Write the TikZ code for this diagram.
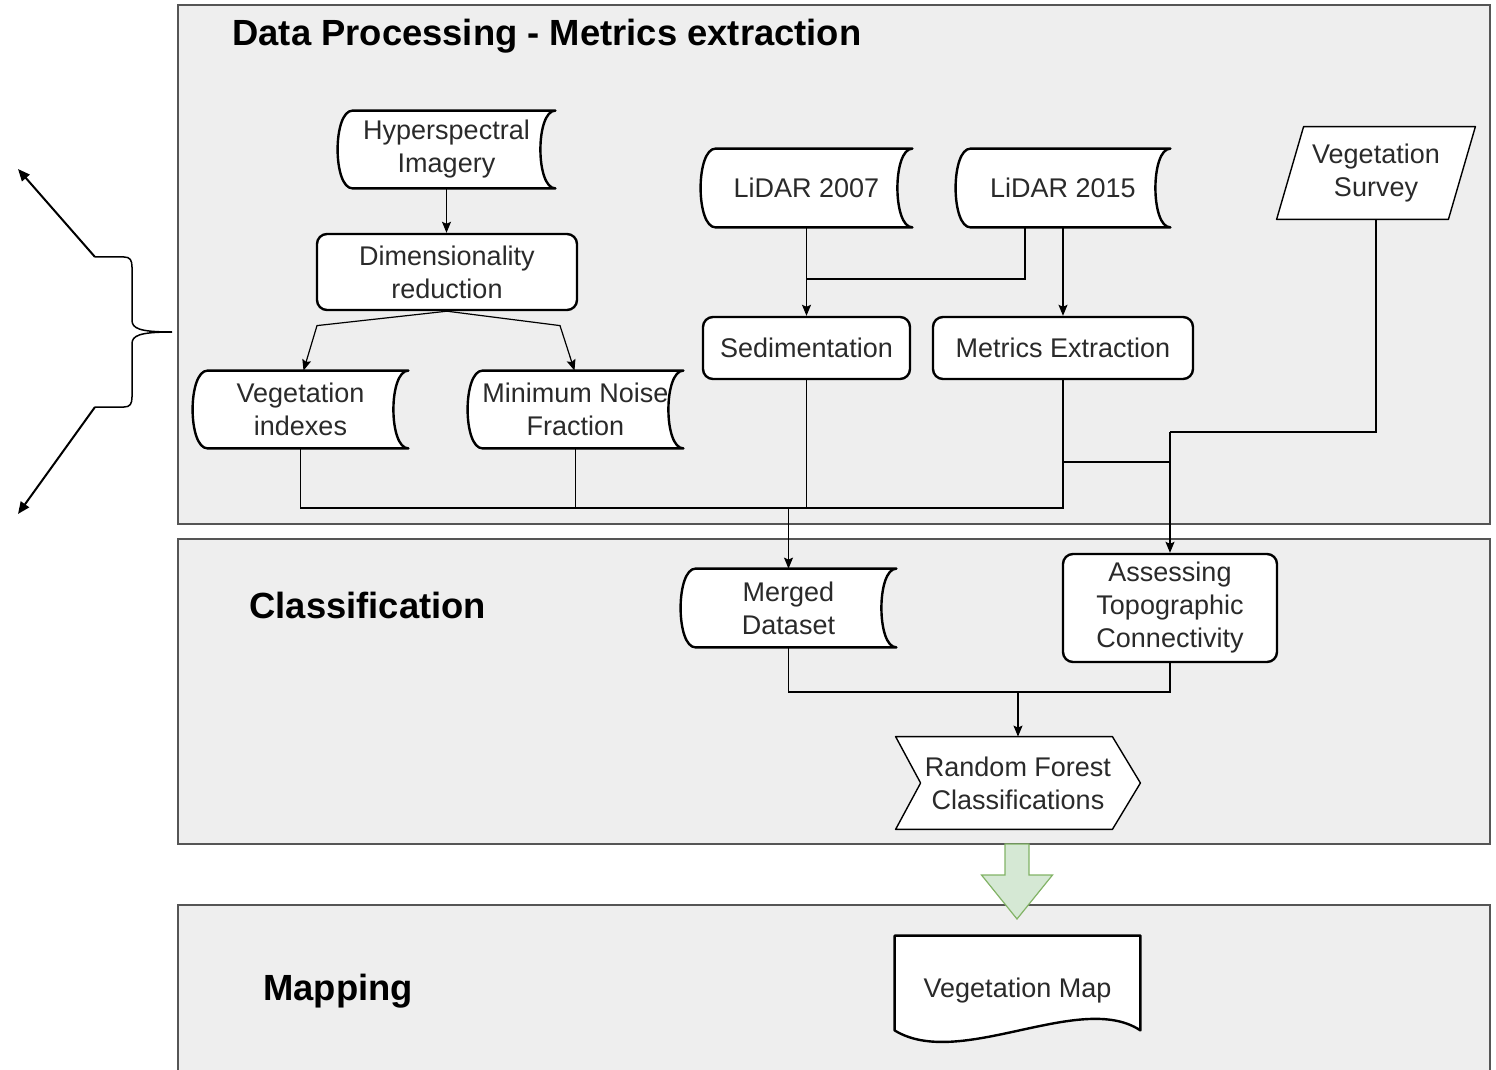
\documentclass[tikz,border=0pt]{standalone}
\usepackage{fontspec}
\setmainfont{Liberation Sans}
\usetikzlibrary{arrows.meta,calc}
\pgfdeclarelayer{panel}
\pgfdeclarelayer{shape}
\pgfsetlayers{panel,shape,main}
\definecolor{panelfill}{HTML}{EEEEEE}
\definecolor{panelline}{HTML}{555555}
\definecolor{txtcol}{HTML}{2A2A2A}
\definecolor{gfill}{HTML}{D5E8D4}
\definecolor{gline}{HTML}{82B366}
\tikzset{
  panelbox/.style={draw=panelline, line width=0.8pt, fill=panelfill},
  shp/.style={draw=black, line width=1.2pt, fill=white, line join=round},
  txt/.style={font=\fontsize{13.5}{16.5}\selectfont, align=center, text=txtcol, inner sep=0pt},
  ghost/.style={txt, draw=none, fill=none},
  rbox/.style={txt, shp, rounded corners=5pt},
  ttl/.style={font=\bfseries\fontsize{18.2}{21.8}\selectfont, text=black, inner sep=0pt},
  conn/.style={draw=black, line width=0.6pt},
  arr/.style={conn, -{Stealth[length=5.5pt,width=4.5pt,inset=1pt]}},
  bracearr/.style={draw=black, line width=1pt, -{Triangle[length=6pt,width=5pt]}},
}
\newcommand{\stdata}[1]{%
  \begin{pgfonlayer}{shape}
  \draw[shp] ([xshift=7.5pt]#1.north west) -- (#1.north east)
    .. controls ([xshift=-10pt]#1.north east) and ([xshift=-10pt]#1.south east) .. (#1.south east)
    -- ([xshift=7.5pt]#1.south west)
    .. controls ([xshift=-2.5pt]#1.south west) and ([xshift=-2.5pt]#1.north west) .. ([xshift=7.5pt]#1.north west) -- cycle;
  \end{pgfonlayer}}
\begin{document}
\begin{tikzpicture}[x=0.5pt,y=-0.5pt]
\useasboundingbox (0,0) rectangle (1496,1070);

% panels
\begin{pgfonlayer}{panel}
\path[panelbox] (178,5) rectangle (1490,524);
\path[panelbox] (178,539) rectangle (1490,844);
\path[panelbox] (178,905) rectangle (1490,1080);
\end{pgfonlayer}

% titles
\node[ttl, anchor=base west] (t1) at (232,46) {Data Processing - Metrics extraction};
\node[ttl, anchor=base west] (t2) at (249,618) {Classification};
\node[ttl, anchor=base west] (t3) at (263,1000) {Mapping};

% stored-data nodes
\node[ghost, minimum width=108.5pt, minimum height=38.5pt] (hyp) at (446.5,149.5) {Hyperspectral\\Imagery};
\stdata{hyp}
\node[ghost, minimum width=107.5pt, minimum height=38.5pt] (vi) at (300.5,409.5) {Vegetation\\indexes};
\stdata{vi}
\node[ghost, minimum width=107.5pt, minimum height=38.5pt] (mnf) at (575.5,409.5) {Minimum Noise\\Fraction};
\stdata{mnf}
\node[ghost, minimum width=105.5pt, minimum height=39pt] (l07) at (806.5,188) {LiDAR 2007};
\stdata{l07}
\node[ghost, minimum width=107pt, minimum height=39pt] (l15) at (1063,188) {LiDAR 2015};
\stdata{l15}
\node[ghost, minimum width=107.5pt, minimum height=39pt] (md) at (788.5,608) {Merged\\Dataset};
\stdata{md}

% rounded boxes
\node[rbox, minimum width=130pt, minimum height=38pt] (dim) at (447,272) {Dimensionality\\reduction};
\node[rbox, minimum width=103.5pt, minimum height=31pt] (sed) at (806.5,348) {Sedimentation};
\node[rbox, minimum width=130pt, minimum height=31pt] (me) at (1063,348) {Metrics Extraction};
\node[rbox, minimum width=107pt, minimum height=54pt] (atc) at (1170,608) {Assessing\\Topographic\\Connectivity};

% vegetation survey (parallelogram)
\node[ghost, minimum width=99pt, minimum height=46pt] (vs) at (1376,173) {Vegetation\\Survey};
\begin{pgfonlayer}{shape}
\draw[shp, line width=0.7pt] ([xshift=13.5pt]vs.north west) -- (vs.north east) -- ([xshift=-13.5pt]vs.south east) -- (vs.south west) -- cycle;
\end{pgfonlayer}

% random forest (chevron)
\node[ghost, minimum width=122pt, minimum height=46pt] (rf) at (1018,783) {Random Forest\\Classifications};
\begin{pgfonlayer}{shape}
\draw[shp, line width=0.7pt] (rf.north west) -- ([xshift=-14pt]rf.north east) -- (rf.east) -- ([xshift=-14pt]rf.south east) -- (rf.south west) -- ([xshift=12.5pt]rf.west) -- cycle;
\end{pgfonlayer}

% vegetation map (document)
\node[ghost, minimum width=122.5pt, minimum height=55pt] (vm) at (1017.5,991) {Vegetation Map};
\begin{pgfonlayer}{shape}
\draw[shp] (vm.north west) -- (vm.north east) -- ([shift={(0,-16)}]vm.south east)
  .. controls ([shift={(-60,-56)}]vm.south east) and ([shift={(65,24)}]vm.south west) .. ([shift={(0,-16)}]vm.south west) -- cycle;
\end{pgfonlayer}

% helper coordinates
\coordinate (ly) at (0,279);
\coordinate (vy) at (0,432);
\coordinate (my) at (0,462);
\coordinate (busy) at (0,508);
\coordinate (cy) at (0,692);

% connectors
\draw[arr] (hyp.south) -- (hyp.south |- dim.north);
\draw[arr] (dim.south) -- ([shift={(16.5,-45)}]vi.north) -- ([xshift=1.5pt]vi.north);
\draw[arr] (dim.south) -- ([shift={(-15.5,-45)}]mnf.north) -- ([xshift=-0.5pt]mnf.north);
\draw[arr] (l07.south) -- (sed.north);
\draw[conn] ([xshift=-19pt]l15.south) |- (sed.north |- ly);
\draw[arr] (l15.south) -- (me.north);
\draw[conn] (vi.south) -- (vi.south |- busy) -- (me.south |- busy) -- (me.south);
\draw[conn] (mnf.south) -- (mnf.south |- busy);
\draw[conn] (sed.south) -- (sed.south |- busy);
\draw[arr] (md.north |- busy) -- (md.north);
\draw[conn] (vs.south) -- (vs.south |- vy) -- (atc.north |- vy);
\draw[arr] (atc.north |- vy) -- (atc.north);
\draw[conn] (me.south |- my) -- (atc.north |- my);
\draw[conn] (md.south) -- (md.south |- cy) -- (atc.south |- cy) -- (atc.south);
\draw[arr] (rf.north |- cy) -- (rf.north);

% green block arrow
\coordinate (ga) at (1017,844);
\draw[fill=gfill, draw=gline, line width=0.6pt]
  ([shift={(-12,0)}]ga) -- ([shift={(12,0)}]ga) -- ([shift={(12,31)}]ga) -- ([shift={(35.5,31)}]ga)
  -- ([shift={(0,75)}]ga) -- ([shift={(-35.5,31)}]ga) -- ([shift={(-12,31)}]ga) -- cycle;

% brace and its arrows
\coordinate (bt) at (95,257);
\coordinate (bb) at (95,407);
\coordinate (at1) at (18,169);
\coordinate (at2) at (18,514);
\draw[black, line width=0.75pt] (bt) -- (124,257) .. controls (130,257) and (132,260) .. (132,267)
  -- (132,320) .. controls (132,328) and (138,332) .. (172,332)
  .. controls (138,332) and (132,336) .. (132,344)
  -- (132,397) .. controls (132,404) and (130,407) .. (124,407) -- (bb);
\draw[bracearr] (bt) -- (at1);
\draw[bracearr] (bb) -- (at2);
\end{tikzpicture}
\end{document}
